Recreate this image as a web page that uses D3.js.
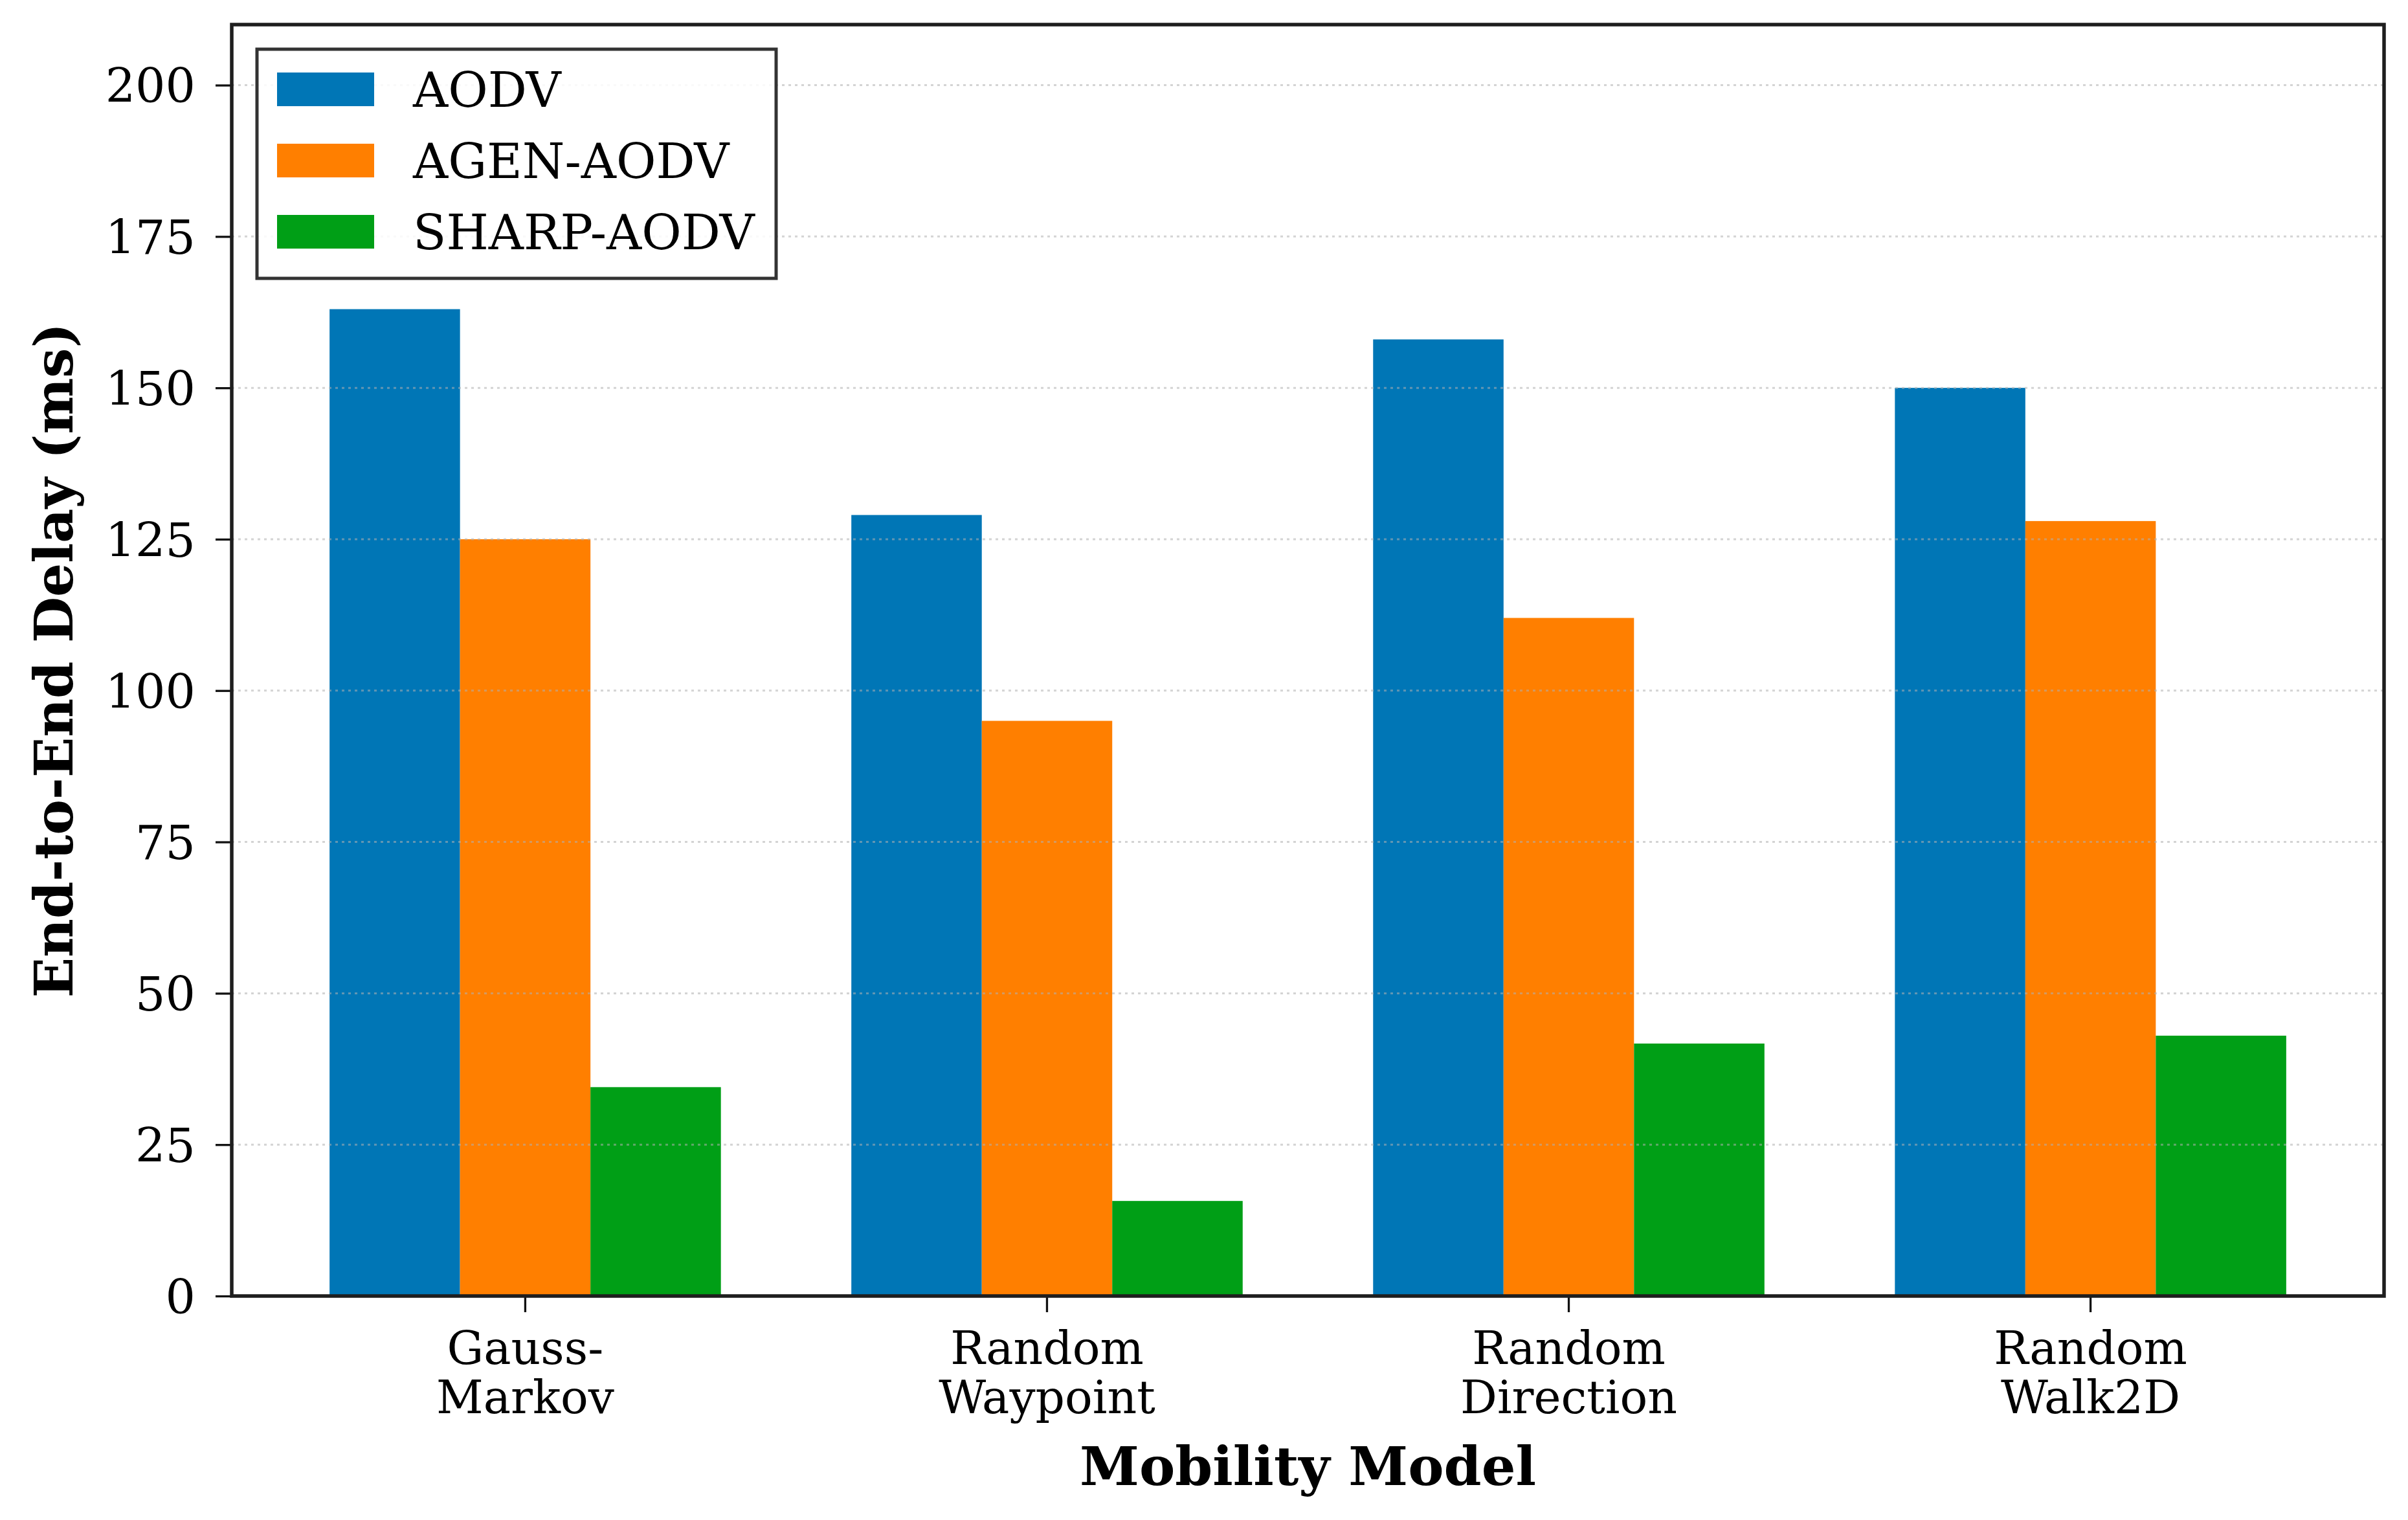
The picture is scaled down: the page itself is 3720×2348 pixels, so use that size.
<!DOCTYPE html>
<html>
<head>
<meta charset="utf-8">
<script src="https://cdn.jsdelivr.net/npm/d3@7"></script>
<style>
  body { margin: 0; background: #fff; }
  text { font-family: "DejaVu Serif", serif; fill: #000; }
</style>
</head>
<body>
<div id="chart"></div>
<script>
// data
const models = ["Gauss-\nMarkov", "Random\nWaypoint", "Random\nDirection", "Random\nWalk2D"];
const protocols = ["AODV", "AGEN-AODV", "SHARP-AODV"];
const aodv = [163, 129, 158, 150];
const agenAodv = [125, 95, 112, 128];
const sharpAodv = [34.5, 15.7, 41.7, 43];
const yTicks = [0, 25, 50, 75, 100, 125, 150, 175, 200];
const colors = ["#0076b6", "#ff7f00", "#009f16"];

const series = [aodv, agenAodv, sharpAodv];

const width = 3720, height = 2348;
const margin = {left: 358, right: 37, top: 38, bottom: 346};

const svg = d3.select("#chart").append("svg")
  .attr("width", width)
  .attr("height", height);

const x0 = d3.scaleBand()
  .domain(d3.range(models.length))
  .range([margin.left, width - margin.right])
  .paddingInner(0.25)
  .paddingOuter(0.1875);

const x1 = d3.scaleBand()
  .domain(d3.range(protocols.length))
  .range([0, x0.bandwidth()]);

const y = d3.scaleLinear()
  .domain([0, 210])
  .range([height - margin.bottom, margin.top]);

// bars
const groups = svg.append("g").selectAll("g")
  .data(models.map((m, i) => i))
  .enter().append("g")
  .attr("transform", i => "translate(" + x0(i) + ",0)");

groups.selectAll("rect")
  .data(i => series.map((s, k) => ({k: k, v: s[i]})))
  .enter().append("rect")
  .attr("x", d => x1(d.k))
  .attr("width", x1.bandwidth())
  .attr("y", d => y(d.v))
  .attr("height", d => y(0) - y(d.v))
  .attr("fill", d => colors[d.k]);

// grid, drawn over the bars like matplotlib does
svg.append("g").selectAll("line")
  .data(yTicks.slice(1))
  .enter().append("line")
  .attr("x1", margin.left)
  .attr("x2", width - margin.right)
  .attr("y1", d => y(d))
  .attr("y2", d => y(d))
  .attr("stroke", "#b0b0b0")
  .attr("stroke-opacity", 0.55)
  .attr("stroke-width", 3)
  .attr("stroke-dasharray", "4,6");

// y axis
const yAxis = svg.append("g")
  .attr("transform", "translate(" + margin.left + ",0)")
  .call(d3.axisLeft(y).tickValues(yTicks).tickSize(25).tickPadding(31));
yAxis.select(".domain").remove();
yAxis.selectAll(".tick line").attr("stroke", "#111").attr("stroke-width", 3.3);
yAxis.selectAll(".tick text")
  .attr("font-size", 73)
  .attr("font-family", "DejaVu Serif")
  .attr("dy", "0.36em");

// x axis
const xAxis = svg.append("g")
  .attr("transform", "translate(0," + y(0) + ")")
  .call(d3.axisBottom(x0).tickSize(25).tickFormat(""));
xAxis.select(".domain").remove();
xAxis.selectAll(".tick line").attr("stroke", "#111").attr("stroke-width", 3.3);

// two-line category labels
const xLabels = svg.append("g").selectAll("text")
  .data(models.map((m, i) => i))
  .enter().append("text")
  .attr("text-anchor", "middle")
  .attr("font-size", 71)
  .attr("x", i => x0(i) + x0.bandwidth() / 2)
  .attr("y", 2107);
xLabels.each(function(i) {
  const lines = models[i].split("\n");
  d3.select(this).selectAll("tspan")
    .data(lines)
    .enter().append("tspan")
    .attr("x", x0(i) + x0.bandwidth() / 2)
    .attr("dy", (d, j) => j === 0 ? 0 : 76)
    .text(d => d);
});

// frame
svg.append("rect")
  .attr("x", margin.left)
  .attr("y", margin.top)
  .attr("width", width - margin.left - margin.right)
  .attr("height", y(0) - margin.top)
  .attr("fill", "none")
  .attr("stroke", "#1e1e1e")
  .attr("stroke-width", 5.5);

// axis titles
svg.append("text")
  .attr("text-anchor", "middle")
  .attr("font-size", 83)
  .attr("font-weight", "bold")
  .attr("x", (margin.left + width - margin.right) / 2)
  .attr("y", 2294)
  .text("Mobility Model");

svg.append("text")
  .attr("text-anchor", "middle")
  .attr("font-size", 82)
  .attr("font-weight", "bold")
  .attr("transform", "translate(112," + (margin.top + y(0)) / 2 + ") rotate(-90)")
  .text("End-to-End Delay (ms)");

// legend
const legend = svg.append("g");
legend.append("rect")
  .attr("x", 397).attr("y", 76)
  .attr("width", 802).attr("height", 354)
  .attr("fill", "#fff").attr("fill-opacity", 0.85)
  .attr("stroke", "#333").attr("stroke-width", 5);

const items = legend.selectAll("g.item")
  .data(protocols)
  .enter().append("g")
  .attr("class", "item")
  .attr("transform", (d, i) => "translate(0," + (138 + i * 110) + ")");

items.append("rect")
  .attr("x", 428).attr("y", -26)
  .attr("width", 150).attr("height", 52)
  .attr("fill", (d, i) => colors[i]);

items.append("text")
  .attr("x", 638)
  .attr("dy", "0.36em")
  .attr("font-size", 75)
  .text(d => d);
</script>
</body>
</html>
